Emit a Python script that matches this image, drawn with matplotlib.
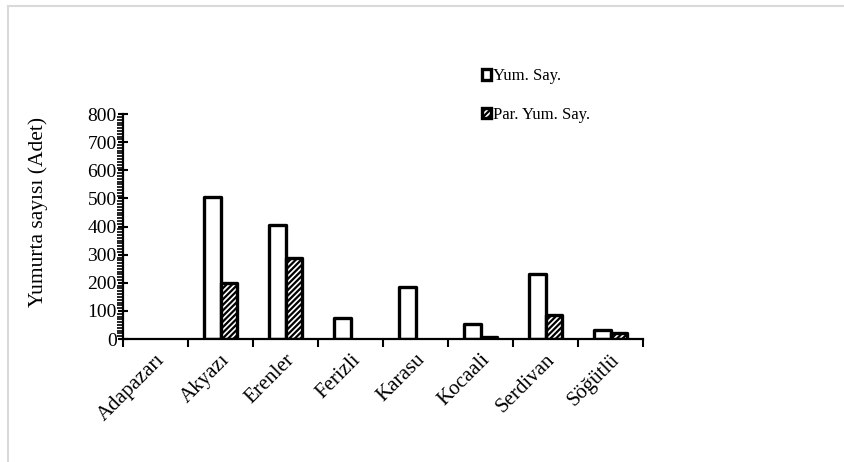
import numpy as np
import matplotlib.pyplot as plt
from matplotlib.patches import Patch
from matplotlib.lines import Line2D
from matplotlib.ticker import MultipleLocator, FixedLocator

plt.rcParams['font.family'] = ['Liberation Serif', 'DejaVu Serif']
plt.rcParams['hatch.linewidth'] = 1.6

ilceler = ['Adapazarı', 'Akyazı', 'Erenler', 'Ferizli', 'Karasu',
           'Kocaali', 'Serdivan', 'Söğütlü']
yum_say = [0, 505, 405, 75, 185, 52, 233, 32]
par_yum_say = [0, 198, 288, 0, 0, 8, 85, 20]

fig = plt.figure(figsize=(8.45, 4.62), dpi=100)
ax = fig.add_axes([0.1456, 0.266, 0.6154, 0.487])

x = np.arange(len(ilceler))
w = 0.25
b1 = ax.bar(x - w / 2, yum_say, w, color='white', edgecolor='black',
            linewidth=2.4, joinstyle='round')
b2 = ax.bar(x + w / 2, par_yum_say, w, color='white', edgecolor='black',
            linewidth=2.4, hatch='//////', joinstyle='round')
# empty values leave no mark
for rect, v in list(zip(b1, yum_say)) + list(zip(b2, par_yum_say)):
    if v == 0:
        rect.set_visible(False)

ax.set_xlim(-0.5, len(ilceler) - 0.5)
ax.set_ylim(0, 800)
ax.yaxis.set_major_locator(MultipleLocator(100))
ax.yaxis.set_minor_locator(MultipleLocator(10))
ax.tick_params(axis='y', which='major', direction='inout', length=7,
               width=1.5, labelsize=14, pad=1)
ax.tick_params(axis='y', which='minor', direction='out', length=4, width=1.2)

# category boundaries get the ticks, names sit at the centres
ax.xaxis.set_major_locator(FixedLocator(np.arange(-0.5, len(ilceler), 1)))
ax.xaxis.set_minor_locator(FixedLocator(x))
ax.set_xticklabels([], minor=False)
ax.set_xticklabels(ilceler, minor=True, rotation=45, ha='right',
                   rotation_mode='anchor', fontsize=15)
ax.tick_params(axis='x', which='major', direction='out', length=6, width=1.5)
ax.tick_params(axis='x', which='minor', length=0, pad=8)

for s in ['top', 'right']:
    ax.spines[s].set_visible(False)
for s in ['left', 'bottom']:
    ax.spines[s].set_linewidth(1.6)

ax.set_ylabel('Yumurta sayısı (Adet)', fontsize=15.5)
ax.yaxis.set_label_coords(-0.144, 0.564)

handles = [Patch(facecolor='white', edgecolor='black', linewidth=2.4),
           Patch(facecolor='white', edgecolor='black', linewidth=2.4,
                 hatch='//////')]
fig.legend(handles, ['Yum. Say.', 'Par. Yum. Say.'], loc='upper left',
           bbox_to_anchor=(0.56, 0.87), frameon=False, fontsize=12,
           handlelength=0.55, handleheight=0.55, handletextpad=0.15,
           labelspacing=1.35, borderpad=0)

# light grey frame of the chart area (top and left edges)
fig.add_artist(Line2D([8 / 845, 8 / 845], [0, 1 - 6 / 462],
                      color='#d9d9d9', linewidth=1.5))
fig.add_artist(Line2D([8 / 845, 1], [1 - 6 / 462, 1 - 6 / 462],
                      color='#d9d9d9', linewidth=1.5))

fig.savefig('out.png', dpi=100)
